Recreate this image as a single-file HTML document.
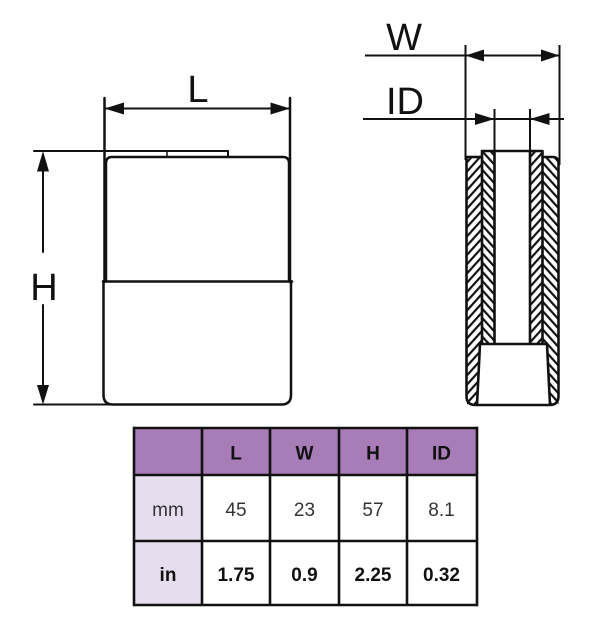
<!DOCTYPE html>
<html><head><meta charset="utf-8">
<style>
html,body{margin:0;padding:0;background:#fff;}
svg{display:block;}
text{font-family:"Liberation Sans",sans-serif;}
</style></head>
<body>
<svg width="600" height="628" viewBox="0 0 600 628" xmlns="http://www.w3.org/2000/svg">
<defs>
<pattern id="hs" patternUnits="userSpaceOnUse" width="6.2" height="6.2" patternTransform="rotate(42)">
<line x1="3" y1="-1" x2="3" y2="8" stroke="#111" stroke-width="2.2"/>
</pattern>
<pattern id="bs" patternUnits="userSpaceOnUse" width="6.2" height="6.2" patternTransform="rotate(-42)">
<line x1="3" y1="-1" x2="3" y2="8" stroke="#111" stroke-width="2.2"/>
</pattern>
</defs>

<!-- LEFT VIEW -->
<g stroke="#111" fill="none" stroke-width="2.5" stroke-linecap="round">
<line x1="104.5" y1="98" x2="104.5" y2="282"/>
<line x1="290" y1="98" x2="290" y2="282"/>
<line x1="105" y1="108.5" x2="289" y2="108.5" stroke-width="2"/>
<line x1="34" y1="151" x2="228" y2="151" stroke-width="2"/>
<line x1="228" y1="151" x2="228" y2="157" stroke-width="2"/>
<line x1="167" y1="151" x2="167" y2="157" stroke-width="1.5"/>
<path d="M106,281 L106,163 Q106,157 112,157 L283,157 Q289,157 289,163 L289,281"/>
<line x1="103" y1="281.5" x2="292" y2="281.5"/>
<path d="M103.5,281 L103.5,395 Q103.5,404.5 113,404.5 L281.5,404.5 Q291,404.5 291,395 L291,281"/>
<line x1="34" y1="404.5" x2="112" y2="404.5" stroke-width="2"/>
<line x1="43" y1="160" x2="43" y2="252" stroke-width="2"/>
<line x1="43" y1="305" x2="43" y2="396" stroke-width="2"/>
</g>
<g fill="#111">
<polygon points="104.5,108.5 124,102.5 124,114.5"/>
<polygon points="290,108.5 270.5,102.5 270.5,114.5"/>
<polygon points="43,151 37,171.5 49,171.5"/>
<polygon points="43,404.5 37,385 49,385"/>
</g>
<text x="198" y="102" font-size="38" text-anchor="middle" fill="#111">L</text>
<text x="44" y="300" font-size="38" text-anchor="middle" fill="#111">H</text>

<!-- RIGHT VIEW -->
<path d="M467,157 L482,157 L482,344 L480,344 L477,404.5 L467,404.5 Z" fill="url(#hs)"/>
<rect x="482" y="151" width="12.5" height="193" fill="url(#bs)"/>
<rect x="530" y="151" width="12.5" height="193" fill="url(#hs)"/>
<path d="M542.5,157 L558.5,157 L558.5,404.5 L550,404.5 L547,344 L542.5,344 Z" fill="url(#bs)"/>

<g stroke="#111" fill="none" stroke-width="2.6" stroke-linejoin="round">
<path d="M466.5,157 L466.5,396 Q466.5,405 475.5,405 L549.5,405 Q558.5,405 558.5,396 L558.5,163 Q558.5,157 552.5,157 L542.5,157"/>
<line x1="466.5" y1="157" x2="482" y2="157"/>
<path d="M482,344 L482,151 L542.5,151 L542.5,344"/>
<line x1="494.5" y1="151" x2="494.5" y2="344"/>
<line x1="530" y1="151" x2="530" y2="344"/>
<path d="M477,405 L480,344 L547,344 L550,405"/>
</g>

<g stroke="#111" fill="none" stroke-width="2">
<line x1="465.5" y1="45" x2="465.5" y2="160"/>
<line x1="559.5" y1="45" x2="559.5" y2="165"/>
<line x1="365" y1="55.5" x2="559.5" y2="55.5"/>
<line x1="494.5" y1="109" x2="494.5" y2="151"/>
<line x1="530" y1="109" x2="530" y2="151"/>
<line x1="363" y1="119" x2="564" y2="119"/>
</g>
<g fill="#111">
<polygon points="465.5,55.5 484,49.5 484,61.5"/>
<polygon points="559.5,55.5 541,49.5 541,61.5"/>
<polygon points="494.5,119 475,113 475,125"/>
<polygon points="530,119 549.5,113 549.5,125"/>
</g>
<text x="404" y="50" font-size="38" text-anchor="middle" fill="#111">W</text>
<text x="405" y="114" font-size="38" text-anchor="middle" fill="#111">ID</text>

<!-- TABLE -->
<rect x="134" y="428" width="343" height="47" fill="#a87cb7"/>
<rect x="134" y="475" width="68" height="130" fill="#e6deee"/>
<g stroke="#111" stroke-width="2.6" fill="none">
<line x1="134" y1="428" x2="478" y2="428"/>
<line x1="134" y1="475" x2="478" y2="475"/>
<line x1="134" y1="541" x2="478" y2="541"/>
<line x1="134" y1="605" x2="478" y2="605"/>
<line x1="134" y1="426.7" x2="134" y2="606.3"/>
<line x1="202" y1="428" x2="202" y2="605"/>
<line x1="270" y1="428" x2="270" y2="605"/>
<line x1="339" y1="428" x2="339" y2="605"/>
<line x1="407" y1="428" x2="407" y2="605"/>
<line x1="477" y1="426.7" x2="477" y2="606.3"/>
</g>
<g font-size="19" font-weight="bold" fill="#111" text-anchor="middle">
<text x="236" y="459.5">L</text>
<text x="304.5" y="459.5">W</text>
<text x="373" y="459.5">H</text>
<text x="441.5" y="459.5">ID</text>
</g>
<g font-size="19" fill="#333" text-anchor="middle">
<text x="168" y="516">mm</text>
<text x="236" y="516">45</text>
<text x="304.5" y="516">23</text>
<text x="373" y="516">57</text>
<text x="441.5" y="516">8.1</text>
</g>
<g font-size="19" font-weight="bold" fill="#111" text-anchor="middle">
<text x="168" y="581">in</text>
<text x="236" y="581">1.75</text>
<text x="304.5" y="581">0.9</text>
<text x="373" y="581">2.25</text>
<text x="441.5" y="581">0.32</text>
</g>
</svg>
</body></html>
